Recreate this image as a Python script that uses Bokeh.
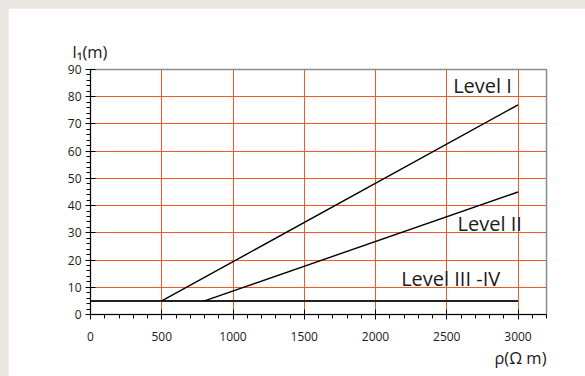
from bokeh.plotting import figure
from bokeh.models import Range1d, SingleIntervalTicker, FixedTicker, Label, Title
from bokeh.embed import file_html
from bokeh.resources import INLINE

# ---- data ----
level1_x = [500, 3000]
level1_y = [5, 77]
level2_x = [800, 3000]
level2_y = [5, 45]
level34_x = [0, 3000]
level34_y = [5, 5]
x_grid = [500, 1000, 1500, 2000, 2500, 3000]
y_grid = [10, 20, 30, 40, 50, 60, 70, 80]
labels = ["Level I", "Level II", "Level III -IV"]
y_title = "l\u2081(m)"
x_title = "\u03c1(\u03a9 m)"

FONT = "Open Sans"
GRID = "#f05a28"
TXT = "#1a1a1a"

p = figure(width=577, height=368, output_backend="svg", toolbar_location=None,
           x_range=Range1d(0, 3200), y_range=Range1d(0, 90),
           min_border_left=82, min_border_right=39, min_border_top=61, min_border_bottom=62,
           background_fill_color="white", border_fill_color="white")

p.outline_line_color = "#878e91"
p.outline_line_width = 1.5

for ax, interval in ((p.xaxis[0], 500), (p.yaxis[0], 10)):
    ax.ticker = SingleIntervalTicker(interval=interval, num_minor_ticks=5)
    ax.axis_line_color = "black"
    ax.axis_line_width = 1
    ax.major_tick_line_color = "black"
    ax.minor_tick_line_color = "black"
    ax.major_tick_in = 5
    ax.major_tick_out = 5
    ax.minor_tick_in = 0
    ax.minor_tick_out = 4
    ax.major_label_text_font = FONT
    ax.major_label_text_font_size = "12px"
    ax.major_label_text_color = TXT
p.xaxis.major_label_standoff = 12
p.yaxis.major_label_standoff = 4

p.xgrid.ticker = FixedTicker(ticks=x_grid)
p.ygrid.ticker = FixedTicker(ticks=y_grid)
p.xgrid.grid_line_color = GRID
p.ygrid.grid_line_color = GRID
p.xgrid.grid_line_width = 1
p.ygrid.grid_line_width = 1

p.line(level34_x, level34_y, line_color="#222222", line_width=2)
p.line(level1_x, level1_y, line_color="black", line_width=1.4)
p.line(level2_x, level2_y, line_color="black", line_width=1.4)

def lab(text, x, y, size):
    p.add_layout(Label(x=x, y=y, text=text,
                       text_font=FONT, text_font_size=size, text_color=TXT,
                       text_align="left", text_baseline="middle"))

lab(labels[0], 2545, 84.2, "20px")
lab(labels[1], 2576, 33.3, "20px")
lab(labels[2], 2180, 13.4, "20px")

p.add_layout(Title(text=y_title, align="left", offset=-18, standoff=14,
                   text_font=FONT, text_font_size="16.5px", text_font_style="normal",
                   text_color=TXT), "above")
p.add_layout(Title(text=x_title, align="right", offset=0, standoff=0,
                   text_font=FONT, text_font_size="16.5px", text_font_style="normal",
                   text_color=TXT), "below")

html = file_html(p, INLINE)
html = html.replace("<head>", "<head><style>html,body{background:#ebe7e3 !important;margin:0 !important;padding:0;overflow:hidden;} body{padding:8px 0 0 8px !important;}</style>", 1)
open("out.html", "w").write(html)
